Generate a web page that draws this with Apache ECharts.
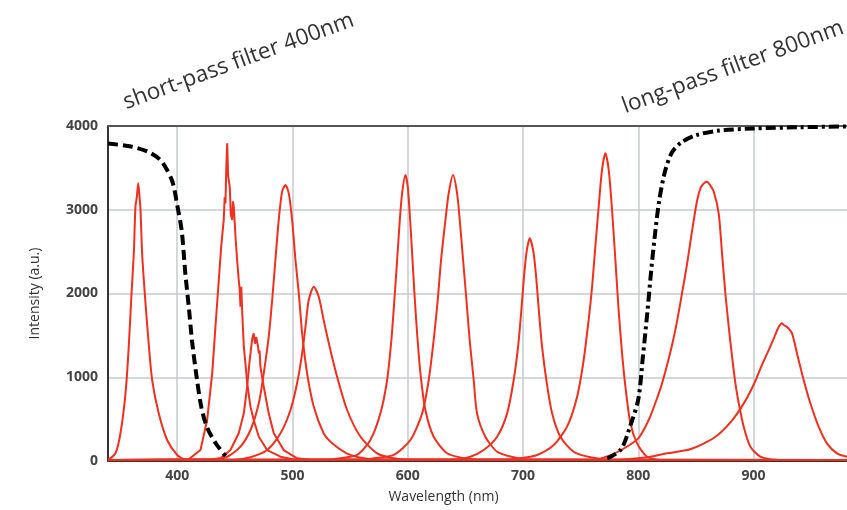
<!DOCTYPE html>
<html>
<head>
<meta charset="utf-8">
<script src="https://cdn.jsdelivr.net/npm/echarts@6/dist/echarts.min.js"></script>
<style>
  html, body { margin: 0; padding: 0; background: #fff; }
  #main { width: 847px; height: 510px; }
</style>
</head>
<body>
<div id="main"></div>
<script>
// wavelength (nm) / intensity (a.u.) pairs
const xTicks = [400, 500, 600, 700, 800, 900];

const shortPass = [
  [340, 3790], [360, 3755], [375, 3690], [385, 3600], [391, 3480], [396, 3330],
  [400, 3060], [404, 2740], [407, 2250], [410, 1850], [413, 1420], [417, 990],
  [421, 640], [426, 400], [434, 200], [442, 60]
];
const longPass = [
  [773, 30], [785, 140], [793, 420], [800, 740], [804, 1250], [808, 1800],
  [811, 2250], [814, 2650], [818, 3100], [823, 3450], [829, 3680], [837, 3800],
  [850, 3890], [870, 3945], [900, 3970], [940, 3985], [981, 3995]
];

const peak365 = [
  [340, 12], [346.5, 92], [350.8, 331], [355.2, 808], [358, 1365], [360.4, 2002],
  [362.4, 2480], [363.8, 3036], [365, 3150], [366.2, 3316], [367.2, 3180],
  [368.2, 2997], [369.6, 2480], [371.9, 2002], [374.8, 1484], [378.3, 967],
  [384, 569], [391.3, 251], [400, 72], [407, 20], [981, 12]
];
const peak443 = [
  [340, 12], [410, 20], [420.2, 131], [426, 490], [430.4, 1047], [433.2, 1604],
  [436.1, 2161], [438.2, 2559], [439.5, 2750], [440.4, 2878], [441.2, 3150],
  [441.9, 3077], [442.6, 3500], [443.4, 3793], [444.2, 3400], [445.6, 3275],
  [446.5, 2950], [447.7, 2878], [448.4, 3100], [449.1, 3036], [449.9, 2850],
  [450.6, 2678], [452, 2400], [453.4, 2161], [454.2, 2050], [454.9, 1842],
  [455.6, 2081], [456.5, 1750], [457.8, 1365], [459.3, 1150], [460.7, 928],
  [462, 800], [463.6, 648], [466.4, 490], [470.8, 290], [478, 131], [489.6, 51],
  [500, 20], [981, 12]
];
const peak470 = [
  [340, 12], [430, 20], [437.6, 32], [446.2, 131], [453.4, 331], [457.8, 569],
  [460.7, 887], [462.5, 1150], [463.6, 1286], [465, 1450], [466.4, 1525],
  [467.5, 1400], [468.5, 1480], [470, 1380], [470.8, 1286], [471.5, 1320],
  [472.2, 1126], [475.1, 887], [479.4, 569], [483.8, 331], [492.4, 131],
  [504, 32], [515, 15], [981, 12]
];
const peak495 = [
  [340, 12], [430, 20], [443.4, 51], [454.9, 171], [463.6, 370], [470.8, 689],
  [475.1, 1047], [479.4, 1484], [482.4, 1922], [485.2, 2400], [488.1, 2878],
  [491, 3216], [493.9, 3295], [496.8, 3196], [499.7, 2878], [502.6, 2400],
  [505.5, 2002], [508.4, 1525], [512.7, 1047], [518.5, 648], [527, 331],
  [533, 230], [547, 92], [562, 32], [575, 15], [981, 12]
];
const peak520 = [
  [340, 12], [450, 15], [463.6, 44], [478, 131], [489.6, 331], [498.3, 609],
  [504, 928], [508.4, 1286], [511.3, 1604], [514.1, 1922], [518.5, 2081],
  [522.8, 1962], [527.1, 1680], [532.9, 1325], [538.7, 1007], [547.4, 609],
  [559, 290], [573.4, 92], [587.8, 32], [600, 15], [981, 12]
];
const peak600 = [
  [340, 12], [530, 15], [541.6, 32], [556.1, 72], [567.6, 251], [576.3, 569],
  [582.1, 967], [585.8, 1445], [588.4, 1922], [590.8, 2400], [593.1, 2878],
  [595.1, 3196], [598, 3415], [600, 3275], [601.7, 2957], [603.8, 2480],
  [605.8, 2002], [608.1, 1525], [611, 1047], [615.3, 609], [622.5, 290],
  [634.1, 92], [648.5, 32], [660, 15], [981, 12]
];
const peak640 = [
  [340, 12], [560, 15], [570.5, 32], [587.8, 72], [602.3, 251], [612.5, 569],
  [618.2, 967], [622.5, 1445], [626, 1922], [628.9, 2400], [632.7, 2878],
  [635.5, 3196], [639.3, 3415], [642.8, 3196], [645.1, 2878], [648, 2400],
  [650.9, 1922], [653.7, 1445], [657.2, 967], [660.1, 569], [667.3, 290],
  [677.5, 111], [691.9, 44], [705, 15], [981, 12]
];
const peak707 = [
  [340, 12], [640, 15], [654.3, 51], [665.9, 131], [677.5, 290], [686.2, 569],
  [691.9, 967], [695.7, 1365], [698.3, 1763], [700.6, 2161], [702.9, 2480],
  [705.8, 2659], [709.2, 2480], [711.6, 2161], [713.9, 1763], [716.5, 1365],
  [720.2, 967], [725.2, 569], [732.4, 290], [743.9, 111], [758.4, 44],
  [775, 15], [981, 12]
];
const peak771 = [
  [340, 12], [685, 15], [697.7, 32], [712.2, 72], [726.6, 191], [738.2, 410],
  [746.9, 768], [752.6, 1206], [756.9, 1684], [759.9, 2081], [762.7, 2559],
  [765.6, 3036], [768.5, 3475], [771.4, 3674], [774.3, 3475], [777.2, 2997],
  [780.1, 2400], [782.9, 1803], [785.9, 1286], [788.8, 887], [793.1, 450],
  [798.9, 211], [807.6, 51], [819.1, 12], [981, 12]
];
const peak858 = [
  [340, 12], [760, 15], [776, 70], [790, 170], [800, 270], [805, 380],
  [810, 520], [816, 740], [820, 900], [825, 1150], [830, 1430], [834, 1700],
  [838, 2010], [842, 2330], [845, 2600], [848, 2870], [851, 3110],
  [854, 3260], [856.5, 3310], [859.5, 3335], [862, 3300],
  [865.3, 3220], [869.7, 2957], [872.6, 2480], [875.5, 2002], [878.4, 1604],
  [881.3, 1245], [884.2, 928], [887.1, 689], [891.4, 410], [897.2, 171],
  [905.9, 51], [920, 15], [981, 12]
];
const peak924 = [
  [340, 12], [780, 15], [807.6, 44], [824.9, 92], [845, 140], [866, 280],
  [881, 480], [892, 700], [900, 910], [907, 1140], [912, 1290], [917, 1445],
  [921, 1580], [924.6, 1644], [926, 1624], [929, 1600], [933.3, 1525],
  [937.6, 1286], [943.4, 967], [949.2, 689], [956.4, 410], [963.6, 211],
  [972.3, 92], [981, 51]
];

const peaks = [peak365, peak443, peak470, peak495, peak520, peak600,
  peak640, peak707, peak771, peak858, peak924];
// the two noisy spectra are drawn without smoothing
const noisy = [peak443, peak470];

const chart = echarts.init(document.getElementById('main'));

const red = '#f0301f';
const series = peaks.map(function (d) {
  return {
    type: 'line',
    data: d,
    symbol: 'none',
    smooth: noisy.indexOf(d) >= 0 ? false : 0.25,
    lineStyle: { color: red, width: 2 },
    z: 2
  };
});
series.push({
  type: 'line',
  data: shortPass,
  symbol: 'none',
  smooth: 0.3,
  lineStyle: { color: '#000', width: 4, type: [10, 5] },
  z: 3
});
series.push({
  type: 'line',
  data: longPass,
  symbol: 'none',
  smooth: 0.3,
  lineStyle: { color: '#000', width: 4, type: [10, 4, 3, 4] },
  z: 3
});

function plain(v) { return String(v); }

const option = {
  animation: false,
  backgroundColor: '#fff',
  textStyle: { fontFamily: 'Open Sans' },
  grid: { left: 108, right: 0, top: 126, bottom: 49 },
  xAxis: [{
    type: 'value',
    min: 340,
    max: 981,
    name: 'Wavelength (nm)',
    nameLocation: 'middle',
    nameGap: 29,
    nameTextStyle: { fontSize: 14, color: '#333', padding: [0, 68, 0, 0] },
    axisLine: { lineStyle: { color: '#333', width: 2 } },
    axisTick: { show: false, customValues: xTicks },
    axisLabel: {
      customValues: xTicks,
      formatter: plain,
      fontSize: 14, fontWeight: 'bold', color: '#444', margin: 8
    },
    splitLine: { show: true, lineStyle: { color: '#c6cbd1', width: 1.5 } }
  }, {
    type: 'value',
    position: 'top',
    min: 340,
    max: 981,
    axisLine: { show: true, lineStyle: { color: '#555', width: 2 } },
    axisTick: { show: false },
    axisLabel: { show: false },
    splitLine: { show: false }
  }],
  yAxis: {
    type: 'value',
    min: 0,
    max: 4000,
    interval: 1000,
    name: 'Intensity (a.u.)',
    nameLocation: 'middle',
    nameGap: 66,
    nameTextStyle: { fontSize: 14, color: '#333' },
    axisLine: { show: true, lineStyle: { color: '#333', width: 2 } },
    axisTick: { show: false },
    axisLabel: { formatter: plain, fontSize: 14, fontWeight: 'bold', color: '#444', margin: 10 },
    splitLine: { show: true, lineStyle: { color: '#c6cbd1', width: 1.5 } }
  },
  graphic: [{
    type: 'text',
    x: 128,
    y: 114,
    rotation: 0.35,
    style: {
      text: 'short-pass filter 400nm',
      fontSize: 22.5,
      fontFamily: 'Open Sans',
      fill: '#333',
      textAlign: 'left',
      textVerticalAlign: 'bottom'
    }
  }, {
    type: 'text',
    x: 627,
    y: 118,
    rotation: 0.35,
    style: {
      text: 'long-pass filter 800nm',
      fontSize: 22.5,
      fontFamily: 'Open Sans',
      fill: '#333',
      textAlign: 'left',
      textVerticalAlign: 'bottom'
    }
  }],
  series: series
};

chart.setOption(option);
</script>
</body>
</html>
